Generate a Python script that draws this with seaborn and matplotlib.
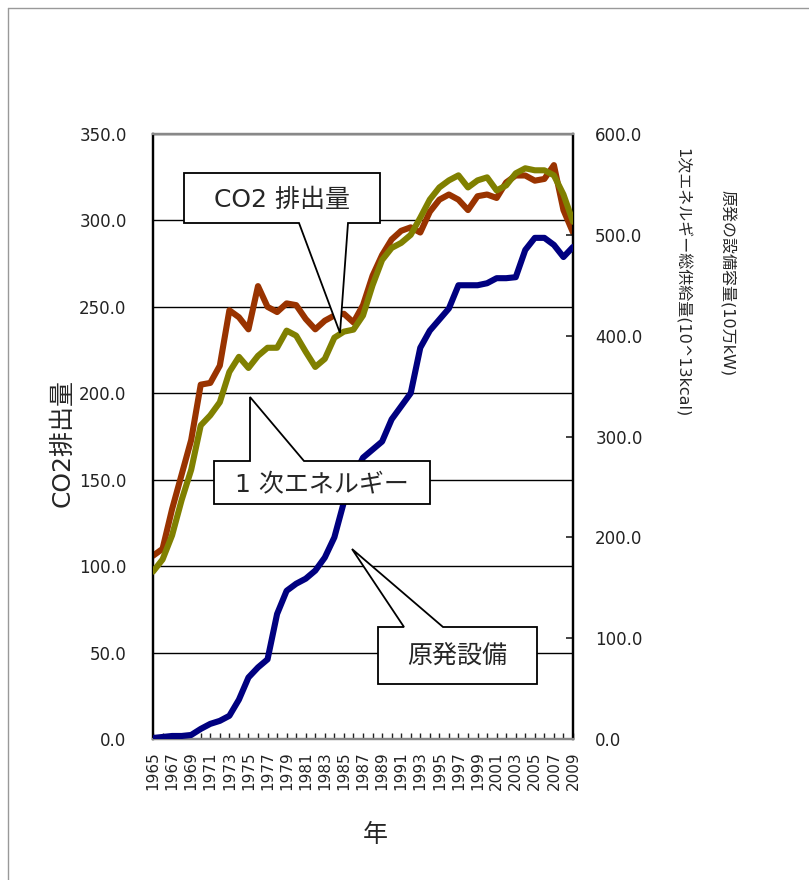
import numpy as np
import pandas as pd
import matplotlib
matplotlib.use("Agg")
import matplotlib.pyplot as plt
import seaborn as sns
from matplotlib.patches import Polygon
from matplotlib.lines import Line2D
from matplotlib.transforms import Affine2D
from matplotlib.ticker import FormatStrFormatter, MultipleLocator

# ---- data ----
years = list(range(1965, 2010))
co2 = [106, 110, 133, 153, 173, 205, 206, 216, 248, 244, 237, 262, 250, 247, 252,
       251, 243, 237, 242, 245, 246, 241, 251, 268, 280, 289, 294, 296, 293, 305,
       312, 315, 312, 306, 314, 315, 313, 322, 326, 326, 323, 324, 332, 306, 293]
energy = [166, 178, 202, 237, 267, 311, 321, 334, 364, 379, 368, 380, 388, 388, 405,
          400, 384, 369, 377, 398, 404, 406, 420, 450, 475, 487, 492, 500, 517, 535,
          547, 554, 559, 547, 554, 557, 544, 549, 561, 566, 564, 564, 559, 540, 513]
nuclear = [1, 2, 3, 3, 4, 10, 15, 18, 23, 39, 61, 71, 79, 124, 147, 154, 159, 167,
           180, 200, 235, 260, 279, 287, 295, 317, 330, 343, 388, 405, 416, 427, 450,
           450, 450, 452, 457, 457, 458, 485, 497, 497, 490, 478, 488]
left_ticks = [0, 50, 100, 150, 200, 250, 300, 350]
right_ticks = [0, 100, 200, 300, 400, 500, 600]
label_years = list(range(1965, 2010, 2))

df = pd.DataFrame({"year": years, "co2": co2, "energy": energy, "nuclear": nuclear})

sns.set_style("white")
plt.rcParams["font.family"] = ["DejaVu Sans", "Noto Sans CJK JP"]

W, H = 809, 880
fig = plt.figure(figsize=(W / 100, H / 100), dpi=100)
ax = fig.add_axes([153 / W, 1 - 739 / H, 420 / W, 605 / H])
ax2 = ax.twinx()

LW = 4.4
sns.lineplot(data=df, x="year", y="co2", ax=ax, color="#993300", lw=LW, zorder=3)
sns.lineplot(data=df, x="year", y="nuclear", ax=ax2, color="#000080", lw=LW, zorder=3)
sns.lineplot(data=df, x="year", y="energy", ax=ax2, color="#808000", lw=LW, zorder=4)

ax.set_xlim(1965, 2009)
ax.set_ylim(0, 350)
ax2.set_ylim(0, 600)
ax.set_yticks(left_ticks)
ax2.set_yticks(right_ticks)
ax.yaxis.set_major_formatter(FormatStrFormatter("%.1f"))
ax2.yaxis.set_major_formatter(FormatStrFormatter("%.1f"))
ax.set_xticks(label_years)
ax.set_xticklabels([str(y) for y in label_years], rotation=90)
ax.xaxis.set_minor_locator(MultipleLocator(1))

ax.set_axisbelow(True)
ax.yaxis.grid(True, color="black", lw=1.0)
ax.xaxis.grid(False)

ax.tick_params(axis="y", length=0, pad=19, labelsize=12, colors="#222222")
ax.tick_params(axis="x", which="both", direction="in", length=4, width=1,
               pad=9, labelsize=11, colors="#222222", bottom=True)
ax2.tick_params(axis="y", direction="in", length=5, width=1.2, pad=16,
                labelsize=12, colors="#222222")
ax.set_xlabel("")
ax.set_ylabel("")
ax2.set_ylabel("")

for a in (ax, ax2):
    a.spines["top"].set_color("#888888")
    a.spines["bottom"].set_color("#888888")
    a.spines["left"].set_color("black")
    a.spines["right"].set_color("black")
    for s in a.spines.values():
        s.set_linewidth(1.6)
        s.set_visible(True)

pix = Affine2D().scale(1, -1).translate(0, H)

# axis titles
fig.text(375 / W, 1 - 835 / H, "年", ha="center", va="center", fontsize=18)
fig.text(63 / W, 1 - 443 / H, "CO2排出量", ha="center", va="center",
         rotation=90, fontsize=18)
fig.text(682 / W, 1 - 283 / H, "1次エネルギー総供給量(10^13kcal)", ha="center",
         va="center", rotation=270, fontsize=11.5)
fig.text(727 / W, 1 - 283 / H, "原発の設備容量(10万kW)", ha="center",
         va="center", rotation=270, fontsize=11.5)

# callouts
callouts = [
    ("CO2 排出量", (282, 200),
     [(184, 173), (380, 173), (380, 223), (348, 223), (340, 333), (299, 223), (184, 223)]),
    ("1 次エネルギー", (322, 484),
     [(214, 461), (250, 461), (250, 397), (304, 461), (430, 461), (430, 504), (214, 504)]),
    ("原発設備", (457, 656),
     [(378, 627), (404, 627), (352, 549), (443, 627), (537, 627), (537, 684), (378, 684)]),
]
for txt, (tx, ty), verts in callouts:
    fig.add_artist(Polygon(verts, closed=True, transform=pix, facecolor="white",
                           edgecolor="black", lw=1.3, zorder=10))
    t = fig.text(tx, ty, txt, transform=pix, ha="center", va="center",
                 fontsize=18, zorder=11)

# figure border lines
fig.add_artist(Line2D([8, W], [8, 8], transform=pix, color="#999999", lw=1))
fig.add_artist(Line2D([8, 8], [8, H], transform=pix, color="#999999", lw=1))

fig.savefig("out.png", dpi=100)
